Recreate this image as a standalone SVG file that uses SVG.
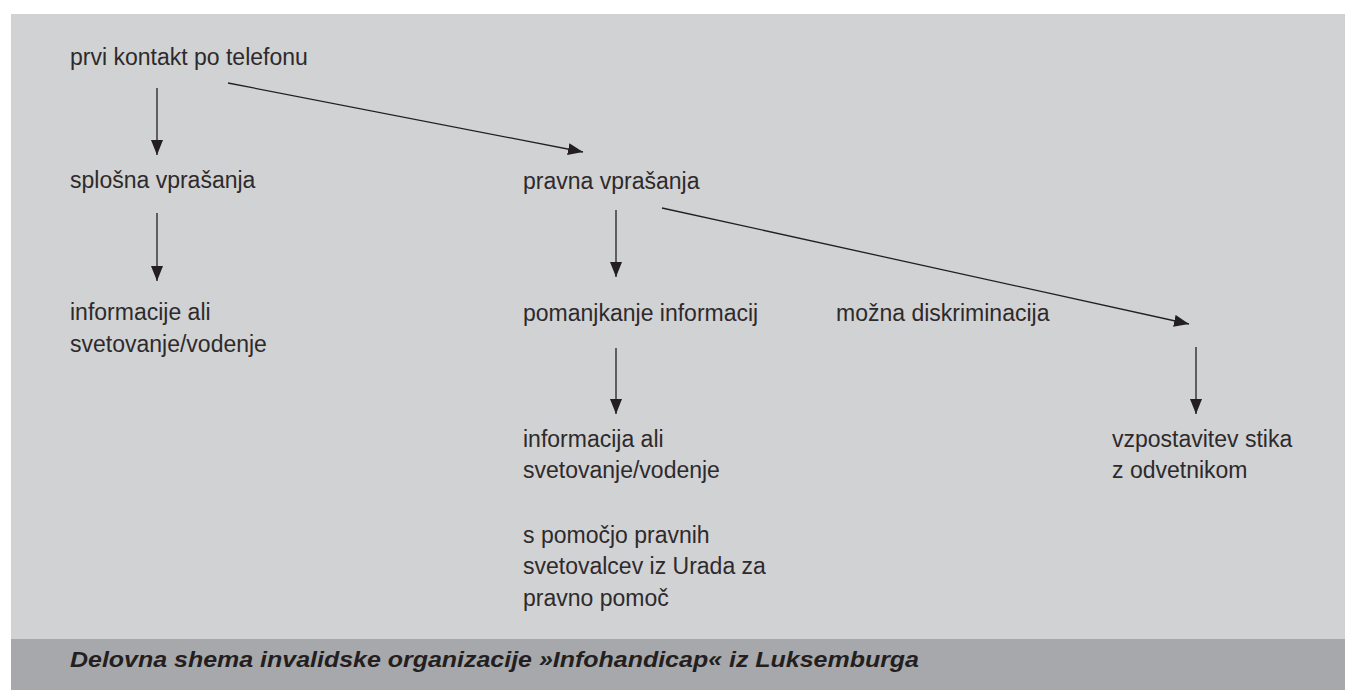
<svg xmlns="http://www.w3.org/2000/svg" width="1345" height="691" viewBox="0 0 1345 691">
  <style>
    .t { font-family: "Liberation Sans", Arial, sans-serif; font-size: 23px; fill: #2e2a2b; }
    .cap { font-family: "Liberation Sans", Arial, sans-serif; font-size: 22px; font-weight: bold; font-style: italic; fill: #231f20; }
    .c { stroke: #231f20; stroke-width: 1.3; fill: none; marker-end: url(#ah); }
  </style>
  <defs>
    <marker id="ah" markerUnits="userSpaceOnUse" markerWidth="16" markerHeight="12" refX="15" refY="6" orient="auto">
      <path d="M0,0 L15,6 L0,12 Z" fill="#231f20"/>
    </marker>
  </defs>
  <rect x="0" y="0" width="1345" height="691" fill="#ffffff"/>
  <rect x="11" y="14" width="1334" height="625" fill="#d1d2d4"/>
  <rect x="11" y="639" width="1334" height="51" fill="#a7a8ab"/>

  <g id="connectors">
    <line class="c" x1="157" y1="88" x2="157" y2="155"/>
    <line class="c" x1="228" y1="83" x2="583" y2="152"/>
    <line class="c" x1="157" y1="213" x2="157" y2="281"/>
    <line class="c" x1="616" y1="210" x2="616" y2="277"/>
    <line class="c" x1="662" y1="208" x2="1189" y2="324"/>
    <line class="c" x1="616" y1="348" x2="616" y2="414"/>
    <line class="c" x1="1196" y1="347" x2="1196" y2="414"/>
  </g>

  <g id="n1"><text class="t" x="70" y="65">prvi kontakt po telefonu</text></g>
  <g id="n2"><text class="t" x="70" y="188">splošna vprašanja</text></g>
  <g id="n3">
    <text class="t" x="70" y="320">informacije ali</text>
    <text class="t" x="70" y="352">svetovanje/vodenje</text>
  </g>
  <g id="n4"><text class="t" x="523" y="189">pravna vprašanja</text></g>
  <g id="n5"><text class="t" x="523" y="321">pomanjkanje informacij</text></g>
  <g id="n6"><text class="t" x="836" y="321">možna diskriminacija</text></g>
  <g id="n7">
    <text class="t" x="523" y="447">informacija ali</text>
    <text class="t" x="523" y="478">svetovanje/vodenje</text>
    <text class="t" x="523" y="543">s pomočjo pravnih</text>
    <text class="t" x="523" y="574">svetovalcev iz Urada za</text>
    <text class="t" x="523" y="606">pravno pomoč</text>
  </g>
  <g id="n8">
    <text class="t" x="1112" y="447">vzpostavitev stika</text>
    <text class="t" x="1112" y="478">z odvetnikom</text>
  </g>
  <g id="caption">
    <text class="cap" x="70" y="667" textLength="849" lengthAdjust="spacingAndGlyphs">Delovna shema invalidske organizacije »Infohandicap« iz Luksemburga</text>
  </g>
</svg>
